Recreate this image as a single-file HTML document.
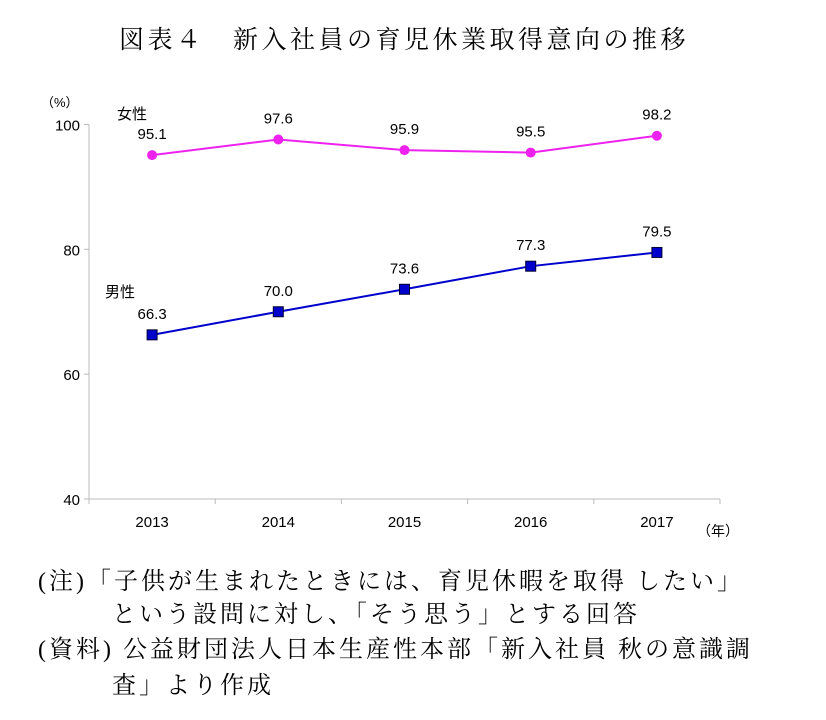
<!DOCTYPE html>
<html><head><meta charset="utf-8"><style>
body{margin:0;background:#fff;width:826px;height:720px;overflow:hidden;position:relative;font-family:"Liberation Serif","Noto Serif CJK SC",serif}
.t{position:absolute;white-space:nowrap;color:#000}
.n{font-size:24px;letter-spacing:3px}
</style></head><body>
<div class="t" style="left:0;width:808px;text-align:center;top:20px;font-size:25px;letter-spacing:3.5px">図表４　新入社員の育児休業取得意向の推移</div>
<svg width="826" height="560" style="position:absolute;left:0;top:0" font-family="Liberation Sans, Noto Sans CJK JP, sans-serif">
<g id="axes"></g><g id="marks"></g>
</svg>
<div class="t n" style="left:38px;top:561px">(注)「子供が生まれたときには、育児休暇を取得 したい」</div>
<div class="t n" style="left:112px;top:594px">という設問に対し、「そう思う」とする回答</div>
<div class="t n" style="left:38px;top:629px">(資料) 公益財団法人日本生産性本部「新入社員 秋の意識調</div>
<div class="t n" style="left:112px;top:665px">査」より作成</div>
<script>
const years=["2013","2014","2015","2016","2017"];
const female=[95.1,97.6,95.9,95.5,98.2];
const male=[66.3,70.0,73.6,77.3,79.5];
const yTicks=[40,60,80,100];
const ns="http://www.w3.org/2000/svg";
const x0=89,x1=720,y0=499,y1=124.5,vmin=40,vmax=100;
const bw=(x1-x0)/years.length;
const X=i=>x0+bw*(i+0.5);
const Y=v=>y0-(v-vmin)/(vmax-vmin)*(y0-y1);
function mk(p,tag,a,txt){const e=document.createElementNS(ns,tag);for(const k in a)e.setAttribute(k,a[k]);if(txt!=null)e.textContent=txt;p.appendChild(e);return e;}
const ax=document.getElementById('axes'),mg=document.getElementById('marks');
let e=mk(ax,'line',{x1:x0,y1:y1,x2:x0,y2:y0,stroke:'#bbb'});

e=mk(ax,'line',{x1:x0,y1:y0,x2:x1,y2:y0,stroke:'#bbb'});

yTicks.forEach(v=>{mk(ax,'line',{x1:x0-5,y1:Y(v),x2:x0,y2:Y(v),stroke:'#bbb'});
e=mk(ax,'text',{x:x0-9,y:Y(v)+6,'text-anchor':'end','font-size':15,fill:'#000'},v);
});
for(let i=0;i<=years.length;i++)mk(ax,'line',{x1:x0+bw*i,y1:y0,x2:x0+bw*i,y2:y0+5,stroke:'#bbb'});
years.forEach((y,i)=>{e=mk(ax,'text',{x:X(i),y:527,'text-anchor':'middle','font-size':15,fill:'#000'},y);
});
e=mk(ax,'text',{x:41,y:107,'font-size':13,fill:'#000'},'（%）');
e=mk(ax,'text',{x:697,y:536,'font-size':14,fill:'#000'},'（年）');
e=mk(ax,'text',{x:117,y:119,'font-size':15,fill:'#000'},'女性');
e=mk(ax,'text',{x:105,y:297,'font-size':15,fill:'#000'},'男性');
function series(vals,color,shape,name){
 e=mk(mg,'polyline',{points:vals.map((v,i)=>X(i)+','+Y(v)).join(' '),fill:'none',stroke:color,'stroke-width':2});
 
 vals.forEach((v,i)=>{
  if(shape==='c')e=mk(mg,'circle',{cx:X(i),cy:Y(v),r:5,fill:color});
  else e=mk(mg,'rect',{x:X(i)-5,y:Y(v)-5,width:10,height:10,fill:color,stroke:'#003'});
  
  e=mk(mg,'text',{x:X(i),y:Y(v)-16,'text-anchor':'middle','font-size':15,fill:'#000'},v.toFixed(1));
  
 });
}
series(female,'#ee22ee','c','female');
series(male,'#0000cc','s','male');
</script>
</body></html>
